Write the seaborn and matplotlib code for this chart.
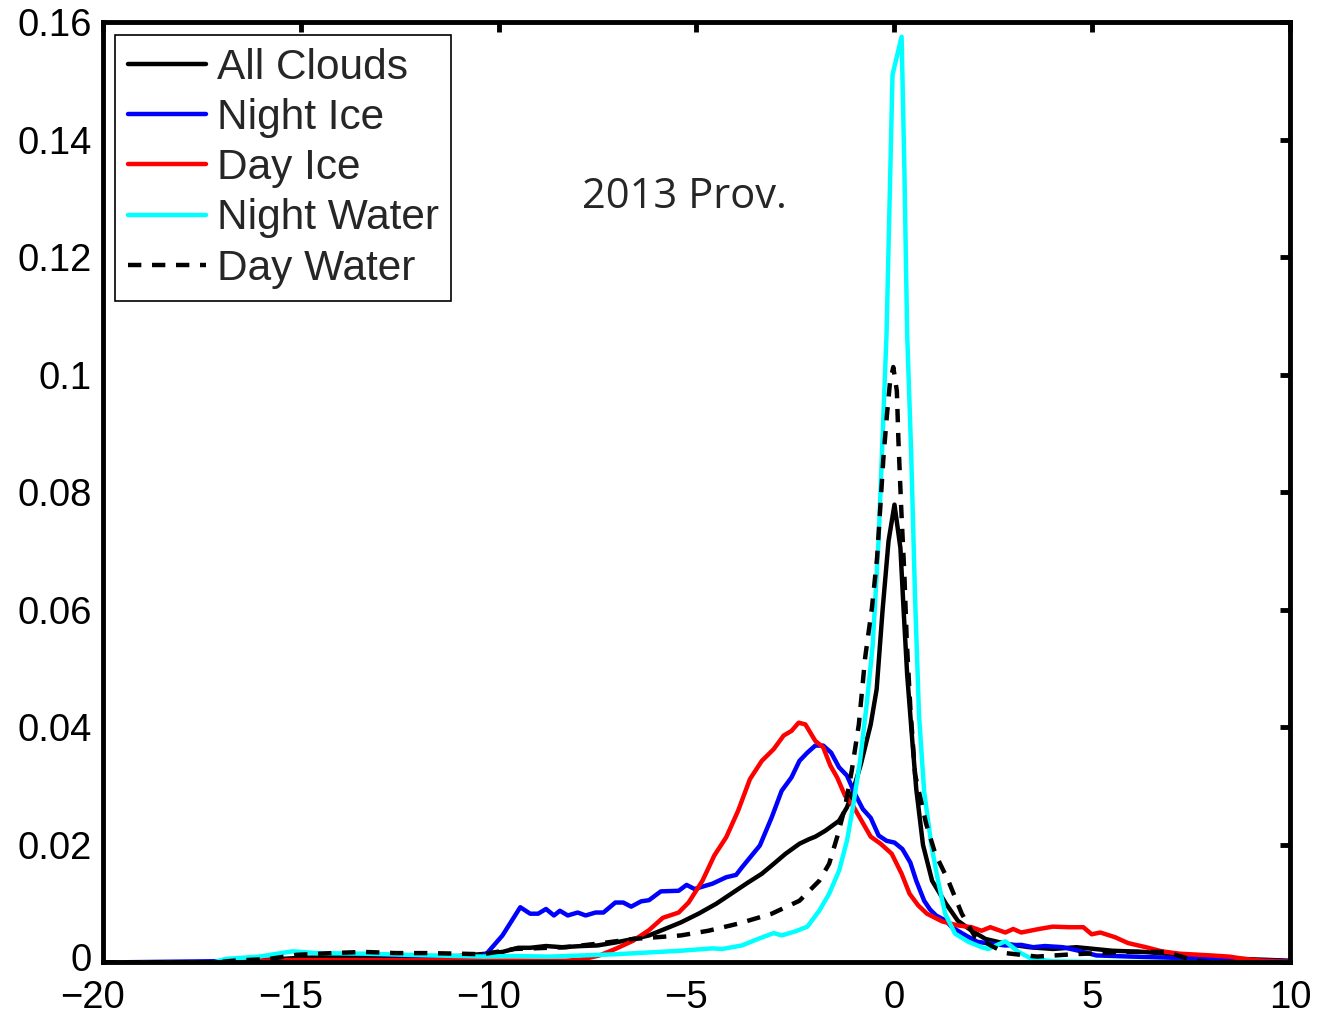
import matplotlib
matplotlib.use("Agg")
import matplotlib.pyplot as plt
import matplotlib.transforms as mtransforms
import seaborn as sns
import pandas as pd

# --- values (x, fraction) ---
all_clouds = [(-20, 0), (-17, 0), (-16, 0.0004), (-15, 0.0008), (-13, 0.0010), (-11, 0.0011),
              (-10.3, 0.0015), (-9.9, 0.0018), (-9.5, 0.0025), (-9.2, 0.0025), (-8.8, 0.0028),
              (-8.4, 0.0026), (-7.9, 0.0028), (-7.5, 0.0029), (-7.05, 0.0034), (-6.6, 0.0040),
              (-6.2, 0.0046), (-5.8, 0.0057), (-5.4, 0.0068), (-4.95, 0.0083), (-4.5, 0.0100),
              (-4.1, 0.0118), (-3.7, 0.0136), (-3.35, 0.0151), (-3.1, 0.0165), (-2.75, 0.0185),
              (-2.4, 0.0202), (-2.15, 0.0210), (-2.0, 0.0214), (-1.75, 0.0224), (-1.4, 0.0241),
              (-1.2, 0.0264), (-1.05, 0.0292), (-0.85, 0.0337), (-0.6, 0.0405), (-0.45, 0.0465),
              (-0.3, 0.0600), (-0.15, 0.0717), (0.0, 0.0779), (0.15, 0.0705), (0.23, 0.0600),
              (0.32, 0.0490), (0.45, 0.0377), (0.55, 0.0295), (0.72, 0.0200), (0.95, 0.0139),
              (1.3, 0.0100), (1.6, 0.0071), (1.95, 0.0054), (2.3, 0.0040), (2.8, 0.0032),
              (3.4, 0.0026), (4.0, 0.0023), (4.6, 0.0026), (5.5, 0.0020), (6.3, 0.0018),
              (6.85, 0.0015), (7.6, 0.0009), (8.4, 0.0007), (10, 0.0003)]

night_ice = [(-20, 0), (-16, 0.0003), (-12, 0.0005), (-10.5, 0.0008), (-10.3, 0.0015),
             (-9.9, 0.0046), (-9.45, 0.0094), (-9.2, 0.0083), (-9.0, 0.0083), (-8.8, 0.0091),
             (-8.6, 0.0080), (-8.45, 0.0088), (-8.25, 0.0080), (-8.0, 0.0085), (-7.8, 0.0080),
             (-7.55, 0.0085), (-7.35, 0.0085), (-7.05, 0.0102), (-6.85, 0.0102), (-6.65, 0.0095),
             (-6.4, 0.0104), (-6.2, 0.0106), (-5.9, 0.0121), (-5.45, 0.0122), (-5.25, 0.0132),
             (-5.05, 0.0125), (-4.6, 0.0134), (-4.25, 0.0145), (-4.0, 0.0149), (-3.85, 0.0162),
             (-3.4, 0.0199), (-3.1, 0.0247), (-2.85, 0.0292), (-2.6, 0.0315), (-2.4, 0.0343),
             (-2.2, 0.0357), (-2.0, 0.0369), (-1.8, 0.0369), (-1.6, 0.0357), (-1.4, 0.0332),
             (-1.2, 0.0318), (-1.0, 0.0287), (-0.8, 0.0261), (-0.6, 0.0246), (-0.4, 0.0216),
             (-0.2, 0.0207), (0.0, 0.0204), (0.2, 0.0193), (0.4, 0.0170), (0.55, 0.0139),
             (0.75, 0.0105), (0.9, 0.0090), (1.05, 0.0080), (1.3, 0.0071), (1.45, 0.0060),
             (1.8, 0.0046), (2.1, 0.0035), (2.45, 0.0032), (2.8, 0.0029), (3.2, 0.0030),
             (3.5, 0.0026), (3.8, 0.0028), (4.25, 0.0026), (4.65, 0.0020), (5.1, 0.0012),
             (6, 0.0010), (7, 0.0008), (8, 0.0006), (9, 0.0004), (10, 0.0002)]

day_ice = [(-20, 0), (-17, 0), (-16.5, 0.0003), (-15, 0.0004), (-12, 0.0004), (-9, 0.0003),
           (-8.3, 0.0003), (-7.9, 0.0005), (-7.45, 0.0012), (-7.05, 0.0023), (-6.6, 0.0037),
           (-6.2, 0.0055), (-5.85, 0.0076), (-5.45, 0.0085), (-5.2, 0.0102), (-4.85, 0.0139),
           (-4.55, 0.0182), (-4.25, 0.0213), (-3.95, 0.0258), (-3.65, 0.0312), (-3.35, 0.0343),
           (-3.05, 0.0363), (-2.8, 0.0386), (-2.6, 0.0394), (-2.42, 0.0408), (-2.25, 0.0405),
           (-2.0, 0.0377), (-1.8, 0.0366), (-1.62, 0.0335), (-1.45, 0.0315), (-1.25, 0.0284),
           (-1.05, 0.0267), (-0.83, 0.0241), (-0.6, 0.0214), (-0.35, 0.0202), (-0.07, 0.0185),
           (0.18, 0.0151), (0.38, 0.0117), (0.6, 0.0097), (0.82, 0.0083), (1.2, 0.0070),
           (1.6, 0.0063), (1.95, 0.0060), (2.2, 0.0054), (2.42, 0.0060), (2.8, 0.0051),
           (3.0, 0.0057), (3.2, 0.0051), (3.65, 0.0057), (4.0, 0.0061), (4.4, 0.0060),
           (4.77, 0.0060), (4.98, 0.0048), (5.2, 0.0051), (5.57, 0.0043), (5.9, 0.0033),
           (6.35, 0.0026), (6.75, 0.0019), (7.2, 0.0015), (8.0, 0.0012), (8.45, 0.0010),
           (8.85, 0.0006), (9.3, 0.0003), (10, 0.0001)]

night_water = [(-20, 0), (-17.2, 0), (-16.9, 0.0006), (-16.05, 0.0010), (-15.2, 0.0019),
               (-14.6, 0.0016), (-13.4, 0.0015), (-11.7, 0.0012), (-10.4, 0.0010), (-9.6, 0.0011),
               (-8.7, 0.0010), (-7.05, 0.0014), (-5.4, 0.0020), (-4.6, 0.0024), (-4.35, 0.0023),
               (-3.85, 0.0029), (-3.45, 0.0040), (-3.05, 0.0050), (-2.85, 0.0046), (-2.5, 0.0053),
               (-2.2, 0.0061), (-1.9, 0.0088), (-1.65, 0.0117), (-1.4, 0.0156), (-1.2, 0.0207),
               (-1.05, 0.0264), (-0.87, 0.0343), (-0.7, 0.0440), (-0.55, 0.0540), (-0.4, 0.0720),
               (-0.2, 0.1070), (-0.05, 0.1510), (0.18, 0.1575), (0.25, 0.1350), (0.32, 0.1070),
               (0.42, 0.0870), (0.52, 0.0620), (0.62, 0.0420), (0.75, 0.0290), (0.94, 0.0196),
               (1.1, 0.0139), (1.28, 0.0083), (1.53, 0.0049), (1.87, 0.0035), (2.2, 0.0026),
               (2.37, 0.0023), (2.8, 0.0036), (3.13, 0.0018), (3.47, 0.0006), (4.0, 0.0002),
               (5, 0.0001), (10, 0.0)]

day_water = [(-20, 0), (-17.2, 0), (-16.7, 0.0003), (-15.8, 0.0006), (-15.1, 0.0013),
             (-14.2, 0.0016), (-13.4, 0.0018), (-12.6, 0.0016), (-11.8, 0.0016), (-11.0, 0.0015),
             (-10.4, 0.0014), (-9.6, 0.0023), (-8.3, 0.0026), (-7.5, 0.0032), (-6.6, 0.0040),
             (-5.8, 0.0044), (-5.4, 0.0046), (-4.7, 0.0054), (-3.95, 0.0066), (-3.1, 0.0083),
             (-2.4, 0.0105), (-1.9, 0.0139), (-1.65, 0.0168), (-1.45, 0.0213), (-1.25, 0.0264),
             (-1.08, 0.0326), (-0.9, 0.0405), (-0.74, 0.0519), (-0.57, 0.0603), (-0.44, 0.0688),
             (-0.36, 0.0773), (-0.28, 0.0858), (-0.19, 0.0932), (-0.11, 0.0989), (-0.03, 0.1013),
             (0.06, 0.0972), (0.10, 0.0887), (0.17, 0.0773), (0.25, 0.0660), (0.31, 0.0547),
             (0.40, 0.0434), (0.52, 0.0320), (0.8, 0.0236), (1.03, 0.0185), (1.36, 0.0139),
             (1.7, 0.0083), (2.04, 0.0043), (2.8, 0.0016), (3.6, 0.0010), (4.5, 0.0014),
             (5.9, 0.0018), (6.85, 0.0018), (7.6, 0.0003), (8, 0), (10, 0)]

series_names = ["All Clouds", "Night Ice", "Day Ice", "Night Water", "Day Water"]
series_data = [all_clouds, night_ice, day_ice, night_water, day_water]
series_colors = ["black", "#0000ff", "#ff0000", "#00ffff", "black"]
series_styles = ["-", "-", "-", "-", (0, (3, 2.4))]

x_ticks = [-20, -15, -10, -5, 0, 5, 10]
y_ticks = [0, 0.02, 0.04, 0.06, 0.08, 0.1, 0.12, 0.14, 0.16]
y_labels = ["0", "0.02", "0.04", "0.06", "0.08", "0.1", "0.12", "0.14", "0.16"]

sns.set_style("white")
plt.rcParams["font.family"] = ["Liberation Sans", "DejaVu Sans"]

fig = plt.figure(figsize=(13.18, 10.14), dpi=100)
ax = fig.add_axes([0.0778, 0.0508, 0.9013, 0.9275])

for name, pts, col, ls in zip(series_names, series_data, series_colors, series_styles):
    df = pd.DataFrame(pts, columns=["x", "y"])
    sns.lineplot(data=df, x="x", y="y", ax=ax, color=col, linewidth=3.2,
                 label=name, sort=False, estimator=None)
    ax.lines[-1].set_linestyle(ls)

ax.set_xlim(-20, 10)
ax.set_ylim(0, 0.16)
ax.set_xticks(x_ticks)
ax.set_xticklabels([f"\u2212{abs(t)}" if t < 0 else str(t) for t in x_ticks])
ax.set_yticks(y_ticks)
ax.set_yticklabels(y_labels)
ax.set_xlabel("")
ax.set_ylabel("")

for sp in ax.spines.values():
    sp.set_visible(True)
    sp.set_linewidth(3.5)
    sp.set_color("black")
ax.tick_params(direction="in", length=7.5, width=3.5, top=True, right=True,
               labelsize=27.5, colors="black")
ax.tick_params(axis="x", pad=12.5)
ax.tick_params(axis="y", pad=8)

# negative x labels sit a little left of their ticks in the original
shift = mtransforms.ScaledTranslation(-10 / 100, 0, fig.dpi_scale_trans)
for t, lab in zip(x_ticks, ax.get_xticklabels()):
    if t < 0:
        lab.set_transform(lab.get_transform() + shift)

# lift the "0" y label a touch so it clears the "-20" below it
lift = mtransforms.ScaledTranslation(0, 5 / 100, fig.dpi_scale_trans)
zero_lab = ax.get_yticklabels()[0]
zero_lab.set_transform(zero_lab.get_transform() + lift)

ax.text(-7.9, 0.1284, "2013 Prov.", fontsize=30, family=["Open Sans", "DejaVu Sans"],
        va="baseline", ha="left")

leg = ax.legend(loc="upper left", bbox_to_anchor=(0.0105, 0.986), borderaxespad=0,
                fontsize=30.5, handlelength=1.85, handletextpad=0.25, labelspacing=0.24,
                borderpad=0.3, fancybox=False, framealpha=1)
leg.get_frame().set_edgecolor("black")
leg.get_frame().set_linewidth(1.2)
for h, ls in zip(leg.get_lines(), series_styles):
    h.set_linestyle(ls)
    h.set_linewidth(3.2)

fig.savefig("out.png", dpi=100)
